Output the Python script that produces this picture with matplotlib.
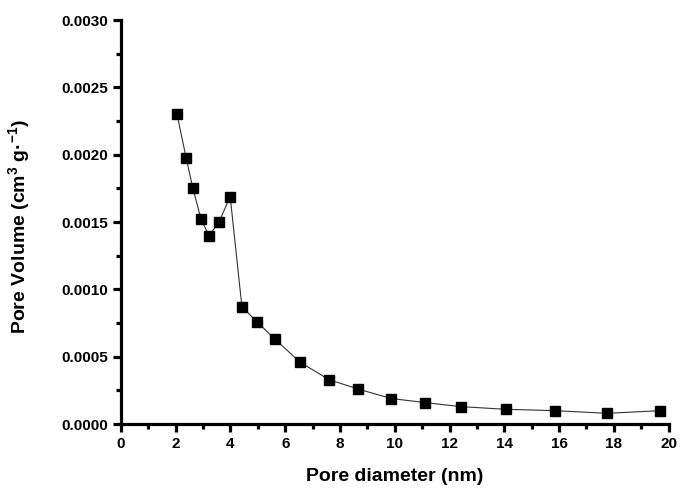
import matplotlib
matplotlib.use("Agg")
import matplotlib.pyplot as plt
from matplotlib.ticker import MultipleLocator, FormatStrFormatter

plt.rcParams['font.family'] = ['Liberation Sans', 'DejaVu Sans']
plt.rcParams['font.weight'] = 'bold'
plt.rcParams['mathtext.default'] = 'regular'

# pore diameter (nm) and pore volume
diameter = [2.05, 2.38, 2.63, 2.93, 3.22, 3.58, 3.99, 4.42, 4.97, 5.63, 6.54,
            7.6, 8.67, 9.87, 11.1, 12.4, 14.05, 15.85, 17.75, 19.7]
volume = [0.00230, 0.00198, 0.00175, 0.00152, 0.00140, 0.00150, 0.00169,
          0.00087, 0.00076, 0.00063, 0.00046, 0.00033, 0.00026, 0.00019,
          0.00016, 0.00013, 0.00011, 0.00010, 0.00008, 0.00010]

fig = plt.figure(figsize=(6.83, 4.92), dpi=100)
ax = fig.add_axes([0.177, 0.138, 0.802, 0.821])

ax.plot(diameter, volume, color='#333333', lw=0.8, marker='s', ms=7,
        mfc='black', mec='black')

ax.set_xlim(0, 20)
ax.set_ylim(0, 0.003)
ax.xaxis.set_major_locator(MultipleLocator(2))
ax.xaxis.set_minor_locator(MultipleLocator(1))
ax.yaxis.set_major_locator(MultipleLocator(0.0005))
ax.yaxis.set_minor_locator(MultipleLocator(0.00025))
ax.yaxis.set_major_formatter(FormatStrFormatter('%.4f'))

for s in ['top', 'right']:
    ax.spines[s].set_visible(False)
for s in ['left', 'bottom']:
    ax.spines[s].set_linewidth(2.3)

ax.tick_params(which='major', direction='out', length=6, width=2.3,
               labelsize=11, pad=3)
ax.tick_params(which='minor', direction='out', length=3.5, width=2.3)

ax.set_xlabel('Pore diameter (nm)', fontsize=14, fontweight='bold')
ax.set_ylabel('Pore Volume (cm$^3$ g·$^{-1}$)', fontsize=14, fontweight='bold')
ax.xaxis.set_label_coords(0.5, -0.108)
ax.yaxis.set_label_coords(-0.162, 0.49)

fig.savefig('out.png', dpi=100)
